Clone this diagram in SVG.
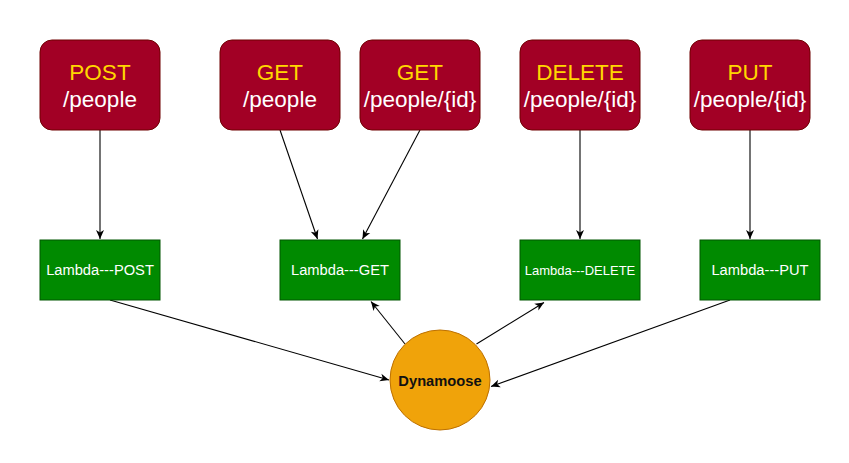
<svg xmlns="http://www.w3.org/2000/svg" width="849" height="463" viewBox="0 0 849 463">
<style>
.api{fill:#a20025;stroke:#6f0000;stroke-width:1}
.lam{fill:#008a00;stroke:#005700;stroke-width:1}
.db{fill:#f0a30a;stroke:#bd7000;stroke-width:1}
.m{font-family:"Liberation Sans",Arial,sans-serif;font-size:22.5px;fill:#ffd700;text-anchor:middle}
.p{font-family:"Liberation Sans",Arial,sans-serif;font-size:22.5px;fill:#ffffff;text-anchor:middle}
.l{font-family:"Liberation Sans",Arial,sans-serif;font-size:14.7px;fill:#ffffff;text-anchor:middle}
.d{font-family:"Liberation Sans",Arial,sans-serif;font-size:14.7px;font-weight:bold;fill:#111111;text-anchor:middle}
.c{fill:none;stroke:#000;stroke-width:1.1;marker-end:url(#arr)}
</style>
<defs>
<marker id="arr" markerUnits="userSpaceOnUse" markerWidth="12" markerHeight="10" viewBox="0 0 12 10" refX="10" refY="5" orient="auto">
<path d="M1,1 L10,5 L1,9 L3.5,5 Z" fill="#000"/>
</marker>
</defs>
<rect width="849" height="463" fill="#ffffff"/>
<g id="connectors">
<line class="c" x1="100" y1="130" x2="100" y2="239"/>
<line class="c" x1="280" y1="130" x2="317.5" y2="239"/>
<line class="c" x1="420" y1="130" x2="362.5" y2="239"/>
<line class="c" x1="580" y1="130" x2="580" y2="239"/>
<line class="c" x1="750" y1="130" x2="750" y2="239"/>
<line class="c" x1="110" y1="300" x2="389" y2="380"/>
<line class="c" x1="405" y1="344" x2="371" y2="301.5"/>
<line class="c" x1="476.5" y1="344" x2="544" y2="302.5"/>
<line class="c" x1="730" y1="300" x2="491" y2="386.5"/>
</g>
<g id="api-post">
<rect class="api" x="40" y="40" width="120" height="90" rx="12"/>
<text class="m" x="100" y="80">POST</text>
<text class="p" x="100" y="107">/people</text>
</g>
<g id="api-get-people">
<rect class="api" x="220" y="40" width="120" height="90" rx="12"/>
<text class="m" x="280" y="80">GET</text>
<text class="p" x="280" y="107">/people</text>
</g>
<g id="api-get-id">
<rect class="api" x="360" y="40" width="120" height="90" rx="12"/>
<text class="m" x="420" y="80">GET</text>
<text class="p" x="420" y="107">/people/{id}</text>
</g>
<g id="api-delete">
<rect class="api" x="520" y="40" width="120" height="90" rx="12"/>
<text class="m" x="580" y="80">DELETE</text>
<text class="p" x="580" y="107">/people/{id}</text>
</g>
<g id="api-put">
<rect class="api" x="690" y="40" width="120" height="90" rx="12"/>
<text class="m" x="750" y="80">PUT</text>
<text class="p" x="750" y="107">/people/{id}</text>
</g>
<g id="lambda-post">
<rect class="lam" x="40" y="240" width="120" height="60"/>
<text class="l" x="100" y="275">Lambda---POST</text>
</g>
<g id="lambda-get">
<rect class="lam" x="280" y="240" width="120" height="60"/>
<text class="l" x="340" y="275">Lambda---GET</text>
</g>
<g id="lambda-delete">
<rect class="lam" x="520" y="240" width="120" height="60"/>
<text class="l" x="580" y="275" style="font-size:13px">Lambda---DELETE</text>
</g>
<g id="lambda-put">
<rect class="lam" x="700" y="240" width="120" height="60"/>
<text class="l" x="760" y="275">Lambda---PUT</text>
</g>
<g id="dynamoose">
<circle class="db" cx="440" cy="380" r="50"/>
<text class="d" x="440" y="385.5">Dynamoose</text>
</g>
</svg>
